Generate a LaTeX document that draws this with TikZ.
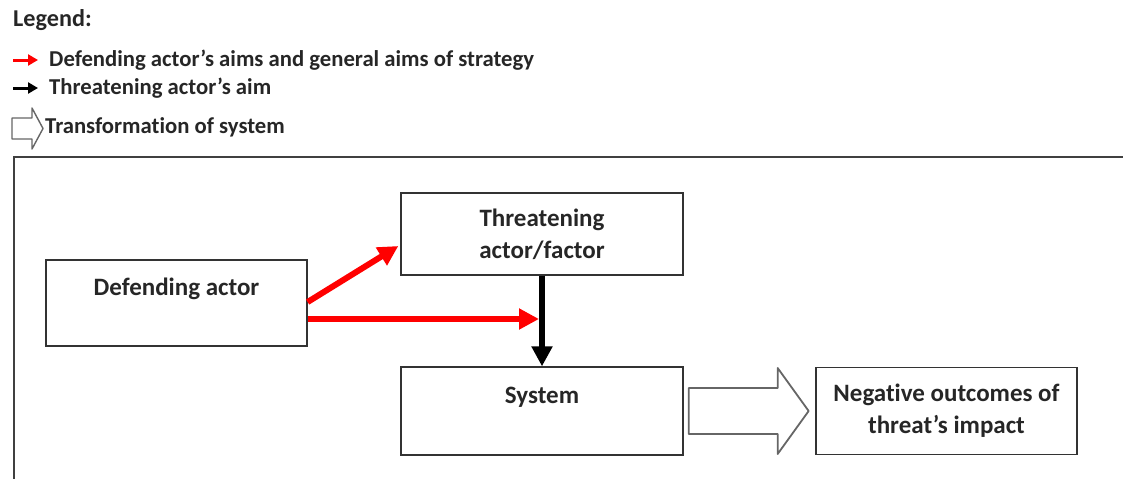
\documentclass[tikz,border=0pt]{standalone}
\usepackage{fontspec}
\setmainfont{Carlito}[Ligatures=NoCommon]
\usetikzlibrary{arrows.meta, positioning}

\begin{document}
\begin{tikzpicture}[x=1pt, y=-1pt, node distance=177pt,
    main/.style = {draw=black!80, line width=1.3pt, minimum width=282pt, minimum height=88pt,
      align=center, text=black!85, font=\bfseries\fontsize{25}{32}\selectfont},
    legtext/.style = {anchor=west, inner sep=0pt, text=black!85, font=\bfseries\fontsize{22.7}{26}\selectfont},
    aim/.style = {line width=6pt, -{Triangle[length=20pt, width=20pt]}},
    legaim/.style = {line width=3pt, -{Triangle[length=10pt, width=11pt]}},
    hollow/.style = {draw=black!60, line width=1.8pt, fill=white, line join=round}]
    \useasboundingbox (0,0) rectangle (1123,479);

    % legend
    \node[legtext, font=\bfseries\fontsize{24.2}{28}\selectfont] (Leg) at (13,20) {Legend:};
    \node[legtext] (L1) at (49,60) {Defending actor’s aims and general aims of strategy};
    \node[legtext] (L2) at (49,88) {Threatening actor’s aim};
    \node[legtext] (L3) at (45,127) {Transformation of system};
    \draw[legaim, red] ([xshift=-36pt]L1.west) -- ([xshift=-11pt]L1.west);
    \draw[legaim, black] ([xshift=-36pt]L2.west) -- ([xshift=-11pt]L2.west);
    \coordinate (legT) at (12,118);
    \draw[hollow, line width=1.4pt] (legT) -- ++(20,0) -- ++(0,-10) -- ++(11,20.5) -- ++(-11,20.5) -- ++(0,-10) -- ++(-20,0) -- cycle;

    % frame
    \draw[black!75, line width=1.3pt] (1123,157) -- (14,157) -- (14,479);

    % boxes
    \node[main, minimum width=261pt, minimum height=86pt] (DA) at (176.5,303) {Defending actor\\\mbox{}};
    \node[main] (Sys) at (542,411) {System\\\mbox{}};
    \node[main, minimum height=82pt] (TA) [above of=Sys] {Threatening\\actor/factor};
    \node[main, minimum width=261pt, minimum height=87pt] (Neg) [right of=Sys, node distance=404.5pt] {Negative outcomes of\\threat’s impact};

    % aims
    \coordinate (hit) at ([yshift=-16pt]DA.east -| TA.south);
    \draw[aim, red] ([yshift=1pt]DA.east) -- ([yshift=-12pt, xshift=-2pt]TA.west);
    \draw[aim, red] ([yshift=-16pt]DA.east) -- ([xshift=-3pt]hit);
    \draw[aim, black] (TA.south) -- (Sys.north);

    % transformation
    \draw[hollow] ([xshift=5pt, yshift=23pt]Sys.east) -- ++(89,0) -- ++(0,-20) -- ++(31,43) -- ++(-31,43) -- ++(0,-20) -- ++(-89,0) -- cycle;
\end{tikzpicture}
\end{document}
